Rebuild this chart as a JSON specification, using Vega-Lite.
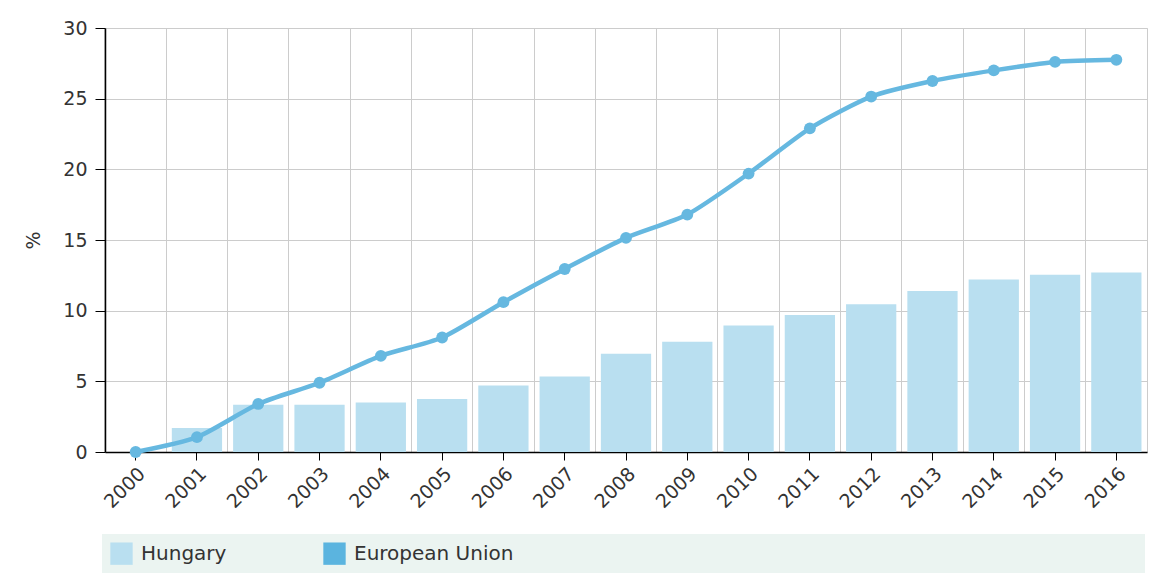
{
  "$schema": "https://vega.github.io/schema/vega-lite/v6.json",
  "width": 1042,
  "height": 424,
  "autosize": {"type": "none"},
  "padding": {"left": 105, "top": 28, "right": 6, "bottom": 124},
  "background": "white",
  "config": {"font": "DejaVu Sans", "view": {"stroke": "#cccccc"}},
  "data": {
    "values": [
      {"year": "2000", "series": "Hungary", "value": 0},
      {"year": "2001", "series": "Hungary", "value": 1.7},
      {"year": "2002", "series": "Hungary", "value": 3.35},
      {"year": "2003", "series": "Hungary", "value": 3.35},
      {"year": "2004", "series": "Hungary", "value": 3.5},
      {"year": "2005", "series": "Hungary", "value": 3.75},
      {"year": "2006", "series": "Hungary", "value": 4.7},
      {"year": "2007", "series": "Hungary", "value": 5.35},
      {"year": "2008", "series": "Hungary", "value": 6.95},
      {"year": "2009", "series": "Hungary", "value": 7.8},
      {"year": "2010", "series": "Hungary", "value": 8.95},
      {"year": "2011", "series": "Hungary", "value": 9.7},
      {"year": "2012", "series": "Hungary", "value": 10.45},
      {"year": "2013", "series": "Hungary", "value": 11.4},
      {"year": "2014", "series": "Hungary", "value": 12.2},
      {"year": "2015", "series": "Hungary", "value": 12.55},
      {"year": "2016", "series": "Hungary", "value": 12.7},
      {"year": "2000", "series": "European Union", "value": 0},
      {"year": "2001", "series": "European Union", "value": 1.05},
      {"year": "2002", "series": "European Union", "value": 3.4},
      {"year": "2003", "series": "European Union", "value": 4.9},
      {"year": "2004", "series": "European Union", "value": 6.8},
      {"year": "2005", "series": "European Union", "value": 8.1},
      {"year": "2006", "series": "European Union", "value": 10.6},
      {"year": "2007", "series": "European Union", "value": 12.95},
      {"year": "2008", "series": "European Union", "value": 15.15},
      {"year": "2009", "series": "European Union", "value": 16.8},
      {"year": "2010", "series": "European Union", "value": 19.7},
      {"year": "2011", "series": "European Union", "value": 22.9},
      {"year": "2012", "series": "European Union", "value": 25.15},
      {"year": "2013", "series": "European Union", "value": 26.25},
      {"year": "2014", "series": "European Union", "value": 27.0},
      {"year": "2015", "series": "European Union", "value": 27.6},
      {"year": "2016", "series": "European Union", "value": 27.75}
    ]
  },
  "layer": [
    {
      "transform": [{"filter": "datum.series == 'Hungary'"}],
      "mark": {"type": "bar"},
      "encoding": {
        "x": {
          "field": "year", "type": "ordinal",
          "scale": {"paddingInner": 0.18, "paddingOuter": 0.09},
          "axis": {"orient": "bottom", "bandPosition": -0.11, "grid": true, "gridColor": "#cccccc", "gridWidth": 1, "labels": false, "ticks": false, "domain": false, "title": null}
        },
        "y": {
          "field": "value", "type": "quantitative",
          "scale": {"domain": [0, 30], "nice": false},
          "axis": {"values": [0, 5, 10, 15, 20, 25, 30], "title": "%", "titleFontSize": 19, "titleFontWeight": "normal", "titleColor": "#333333", "titlePadding": 19, "grid": true, "gridColor": "#cccccc", "domainColor": "#000000", "domainWidth": 1.5, "tickColor": "#000000", "tickSize": 10, "labelFontSize": 19, "labelColor": "#333333", "labelPadding": 8}
        },
        "color": {
          "field": "series", "type": "nominal",
          "scale": {"domain": ["Hungary", "European Union"], "range": ["#b9dff0", "#5bb4df"]},
          "legend": {
            "orient": "none", "legendX": -3, "legendY": 506, "direction": "horizontal", "title": null,
            "symbolType": "square", "symbolSize": 500, "symbolStrokeWidth": 0,
            "labelFontSize": 20, "labelColor": "#333333", "labelOffset": 8, "labelLimit": 2000,
            "fillColor": "#ebf4f1", "padding": 8, "columnPadding": 96,
            "labelExpr": "datum.label == 'European Union' ? datum.label + '                                                                                                  \u200b' : datum.label"
          }
        }
      }
    },
    {
      "transform": [{"filter": "datum.series == 'European Union'"}],
      "mark": {"type": "line", "interpolate": "cardinal", "tension": 0.3, "color": "#66b8e0", "strokeWidth": 4.5, "point": {"filled": true, "size": 140, "color": "#66b8e0", "opacity": 1}},
      "encoding": {
        "x": {
          "field": "year", "type": "ordinal",
          "axis": {"orient": "bottom", "grid": false, "title": null, "labelAngle": -45, "labelFontSize": 19, "labelColor": "#333333", "tickSize": 8, "tickColor": "#000000", "domainColor": "#000000", "domainWidth": 1.5, "labelPadding": 4}
        },
        "y": {
          "field": "value", "type": "quantitative",
          "axis": {"values": [0, 5, 10, 15, 20, 25, 30], "title": "%", "titleFontSize": 19, "titleFontWeight": "normal", "titleColor": "#333333", "titlePadding": 19, "grid": true, "gridColor": "#cccccc", "domainColor": "#000000", "domainWidth": 1.5, "tickColor": "#000000", "tickSize": 10, "labelFontSize": 19, "labelColor": "#333333", "labelPadding": 8}
        }
      }
    }
  ],
  "resolve": {"axis": {"x": "independent"}}
}
